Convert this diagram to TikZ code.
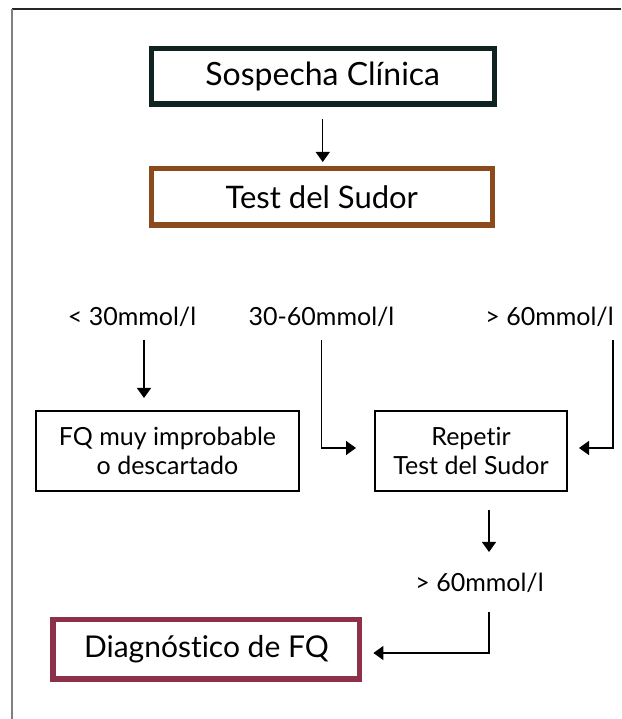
\documentclass[tikz,border=0pt]{standalone}
\usepackage{fontspec}
\setmainfont{Lato}[Ligatures=NoCommon]
\usepackage{xcolor}
\usetikzlibrary{arrows.meta}
\definecolor{fcdark}{HTML}{0F2420}
\definecolor{fcbrown}{HTML}{8A4A1C}
\definecolor{fcwine}{HTML}{8D3049}
\tikzset{
  fctop/.style={line width=1.5pt, draw=black!85},
  fcside/.style={line width=2pt, draw=black!50},
  fcbox/.style={draw, line width=5.5pt, fill=white, align=center, inner sep=0pt},
  fcthin/.style={draw=black, line width=2pt, fill=white, align=center, inner sep=0pt,
    minimum height=80pt, font=\fontsize{25}{29}\selectfont},
  fclabel/.style={anchor=base, inner sep=0pt, font=\fontsize{25}{29}\selectfont},
  fcarrow/.style={line width=1.3pt, draw=black, -{Triangle[width=14pt,length=10pt]}},
}
\begin{document}
\begin{tikzpicture}[x=1pt,y=1pt]
\useasboundingbox (0,0) rectangle (621,719);
\draw[fctop] (12,710) -- (621,710);
\draw[fcside] (12,710) -- (12,0);
\node[fcbox, draw=fcdark, minimum width=343pt, minimum height=55.5pt, font=\fontsize{32}{38}\selectfont] (sosp) at (322.75,642.5) {Sospecha Clínica};
\node[fcbox, draw=fcbrown, minimum width=341pt, minimum height=56.5pt, font=\fontsize{31}{37}\selectfont] (test) at (321.75,522) {Test del Sudor};
\node[fclabel] (low) at (132,393) {< 30mmol/l};
\node[fclabel] (mid) at (321.5,393) {30-60mmol/l};
\node[fclabel] (high) at (549.5,393) {> 60mmol/l};
\node[fcthin, minimum width=263pt] (fq) at (167.5,268) {FQ muy improbable\\o descartado};
\node[fcthin, minimum width=192pt] (rep) at (471,268) {Repetir\\Test del Sudor};
\node[fclabel] (again) at (479.5,127) {> 60mmol/l};
\node[fcbox, draw=fcwine, minimum width=306.5pt, minimum height=59.5pt, font=\fontsize{30}{36}\selectfont] (diag) at (206.4,69.5) {Diagnóstico de FQ};
\draw[fcarrow, shorten <=12pt, shorten >=4pt] (sosp.south) -- (sosp.south |- test.north);
\draw[fcarrow, shorten >=12pt] ([xshift=12pt,yshift=-14pt]low.base) -- ([xshift=-23.5pt]fq.north);
\draw[fcarrow, shorten >=18pt] ([yshift=-14pt]mid.base) |- ([yshift=3pt]rep.west);
\draw[fcarrow, shorten >=11pt] ([xshift=63.5pt,yshift=-14pt]high.base) |- ([yshift=3pt]rep.east);
\draw[fcarrow, shorten <=18pt] ([xshift=18pt]rep.south) -- ([xshift=9.5pt,yshift=40pt]again.base);
\draw[fcarrow, shorten >=11pt] ([xshift=9.5pt,yshift=-20pt]again.base) |- ([yshift=-3.5pt]diag.east);
\end{tikzpicture}
\end{document}
